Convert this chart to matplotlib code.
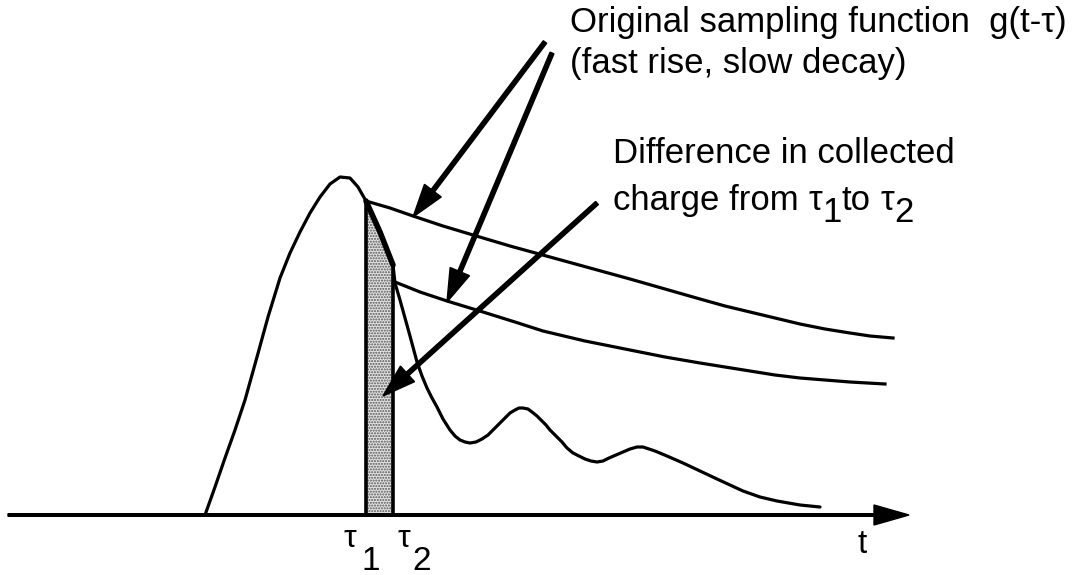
import matplotlib
matplotlib.use("Agg")
import matplotlib.pyplot as plt
import numpy as np

# ---- data (pixel-like units, y grows downward) ----
pulse_x = [205, 215, 225, 235, 245, 257, 268, 280, 290, 300, 310, 320, 330, 340, 350, 358, 366,
           380, 393, 395, 400, 405, 410, 417, 422, 427, 432, 437, 443, 450, 455, 460, 465, 470,
           476, 482, 488, 493, 499, 505, 510, 515, 519, 523, 528, 532, 537, 541, 546, 550, 556,
           562, 567, 573, 579, 585, 591, 597, 603, 609, 616, 623, 630, 637, 643, 655, 667,
           683, 700, 717, 730, 743, 760, 777, 800, 820]
pulse_y = [515, 487, 458, 430, 400, 357, 317, 278, 253, 232, 213, 197, 184, 177, 178, 187, 201,
           232, 265, 283, 300, 318, 336, 362, 376, 388, 398, 407, 419, 430, 436, 440, 442, 443,
           442, 439, 435, 430, 424, 418, 413, 410, 408, 408, 409, 412, 416, 420, 425, 430, 436,
           442, 448, 453, 456, 459, 461, 462, 461, 458, 455, 452, 449, 447, 447, 451, 456,
           463, 471, 479, 485, 491, 497, 501, 505, 507]

decay1_x = [366, 390, 413, 443, 473, 510, 550, 590, 630, 665, 700, 725, 750, 775, 800, 825, 850, 870, 893]
decay1_y = [201, 208, 216, 226, 235, 246, 257, 268, 279, 289, 299, 306, 312, 318, 324, 329, 333, 336, 338]

decay2_x = [395, 420, 447, 483, 515, 543, 585, 630, 665, 700, 725, 750, 775, 800, 825, 850, 885]
decay2_y = [282, 292, 301, 312, 322, 331, 341, 350, 357, 363, 367, 371, 375, 378, 380, 382, 384]

tau1, tau2 = 366, 393
tau2_top = 265
baseline_y = 515

label_sampling = ["Original sampling function  g(t-\u03c4)", "(fast rise, slow decay)"]
label_diff_1 = "Difference in collected"
label_diff_2 = [("charge from", 0, 0.0), ("\u03c4", 0, 0.28), ("1", 12, 0.0),
                ("to", 0, 0.0), ("\u03c4", 0, 0.28), ("2", 12, 0.0)]

plt.rcParams['font.family'] = ['Liberation Sans', 'DejaVu Sans']
plt.rcParams['hatch.linewidth'] = 1.0

fig = plt.figure(figsize=(10.85, 5.75), dpi=100)
ax = fig.add_axes([0, 0, 1, 1])
ax.set_xlim(0, 1085)
ax.set_ylim(575, 0)
ax.axis('off')

px = np.array(pulse_x, float)
py = np.array(pulse_y, float)

# shaded region between tau1 and tau2
m = (px >= tau1) & (px <= tau2)
sx = np.concatenate([[tau1], px[m], [tau2]])
sy = np.concatenate([[baseline_y], py[m], [baseline_y]])
ax.fill(sx, sy, facecolor='#e2e2e2', hatch='......', edgecolor='#555555', linewidth=0, zorder=1)

lw = 2.3
ax.plot(pulse_x, pulse_y, color='black', lw=lw, solid_joinstyle='round', solid_capstyle='round', zorder=3)
ax.plot(px[m], py[m], color='black', lw=4, solid_capstyle='round', zorder=3)
ax.plot(decay1_x, decay1_y, color='black', lw=lw, solid_joinstyle='round', zorder=3)
ax.plot(decay2_x, decay2_y, color='black', lw=lw, solid_joinstyle='round', zorder=3)

# vertical lines at tau1, tau2
ax.plot([tau1, tau1], [baseline_y, decay1_y[0]], color='black', lw=2.6, zorder=3)
ax.plot([tau2, tau2], [baseline_y, tau2_top], color='black', lw=2.6, zorder=3)

# time axis with arrow
ax.arrow(8, baseline_y, 901, 0, width=2.6, head_width=20, head_length=35,
         length_includes_head=True, color='black', zorder=4)

# pointer arrows
arrows = [((545, 42), (413, 217)), ((552, 53), (447, 302)), ((597, 203), (383, 396))]
for (x0, y0), (x1, y1) in arrows:
    ax.arrow(x0, y0, x1 - x0, y1 - y0, width=4.2, head_width=21, head_length=33,
             length_includes_head=True, color='black', zorder=5)

fs = 25
em = fs * 100 / 72.0
ax.text(570, 32, label_sampling[0], fontsize=fs, va='baseline', ha='left')
ax.text(570, 73, label_sampling[1], fontsize=fs, va='baseline', ha='left')
ax.text(613, 163, label_diff_1, fontsize=fs, va='baseline', ha='left')

# second line: pieces placed one after another, measured with the renderer
fig.canvas.draw()
renderer = fig.canvas.get_renderer()
inv = ax.transData.inverted()
x = 613.0
y0 = 210.0
for s, dy, gap in label_diff_2:
    x += gap * em
    t = ax.text(x, y0 + dy, s, fontsize=fs, va='baseline', ha='left')
    bb = t.get_window_extent(renderer)
    x = inv.transform((bb.x1, bb.y0))[0]

# bottom labels
ax.text(343, 547, "\u03c4", fontsize=23, va='baseline', ha='left')
ax.text(361, 570, "1", fontsize=24, va='baseline', ha='left')
ax.text(397, 547, "\u03c4", fontsize=23, va='baseline', ha='left')
ax.text(412, 570, "2", fontsize=24, va='baseline', ha='left')
ax.text(857, 553, "t", fontsize=24, va='baseline', ha='left')

fig.savefig('out.png', dpi=100)
